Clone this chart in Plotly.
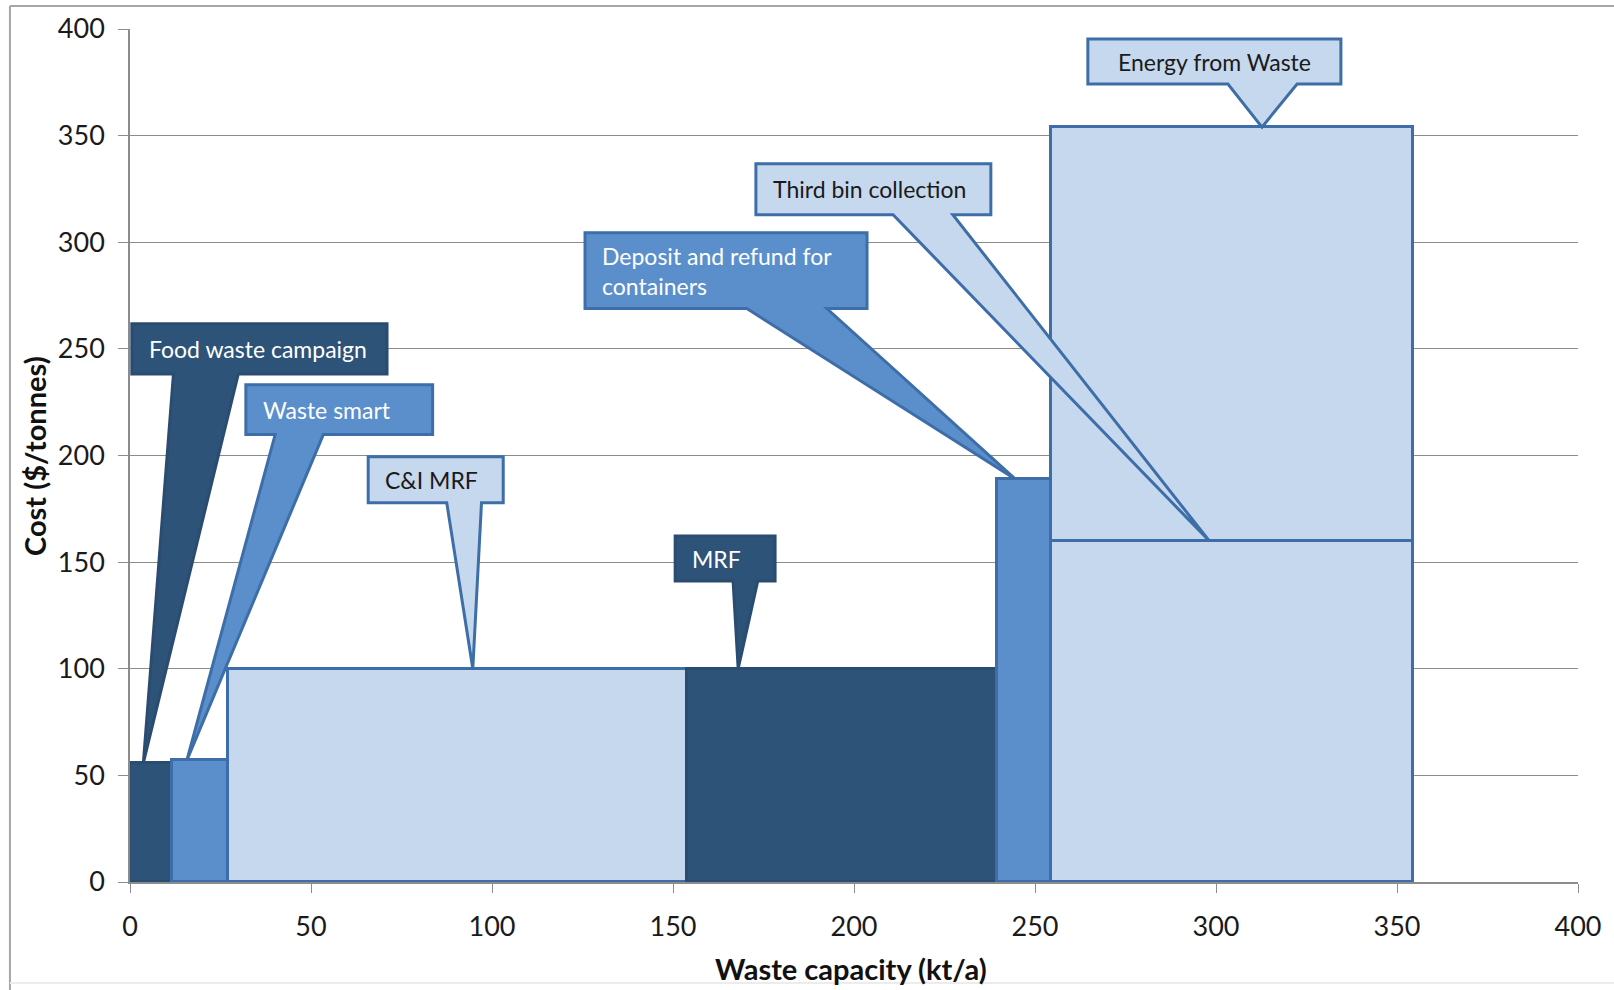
import plotly.graph_objects as go

# Waste options: where each starts on the capacity axis, its capacity and its cost
options = [
    "Food waste campaign",
    "Waste smart",
    "C&I MRF",
    "MRF",
    "Deposit and refund for containers",
    "Third bin collection",
    "Energy from Waste",
]
capacity_start = [0, 11.5, 27, 154, 239.5, 254.5, 254.5]   # kt/a
capacity = [11.5, 15.5, 127, 85.5, 15, 100, 100]           # kt/a
cost = [56, 57, 100, 100, 189, 160, 354]                   # $/tonne

x_ticks = [0, 50, 100, 150, 200, 250, 300, 350, 400]
y_ticks = [0, 50, 100, 150, 200, 250, 300, 350, 400]

DARK = "#2e5379"
MID = "#5b8fcb"
LIGHT = "#c5d8ed"
EDGE = "#3e6ea8"
DARK_EDGE = "#2b4c71"
FONT = "Lato, 'Open Sans', sans-serif"

shade = {
    "Food waste campaign": DARK,
    "Waste smart": MID,
    "C&I MRF": LIGHT,
    "MRF": DARK,
    "Deposit and refund for containers": MID,
    "Third bin collection": LIGHT,
    "Energy from Waste": LIGHT,
}

fig = go.Figure()

# Energy from Waste sits behind the third bin block that shares its span
draw_order = [0, 1, 2, 3, 4, 6, 5]
for i in draw_order:
    fig.add_trace(go.Bar(
        x=[capacity_start[i] + capacity[i] / 2],
        y=[cost[i]],
        width=[capacity[i]],
        base=0,
        name=options[i],
        marker=dict(color=shade[options[i]],
                    line=dict(color=DARK_EDGE if shade[options[i]] == DARK else EDGE, width=3)),
        showlegend=False,
        hoverinfo="name+y",
    ))

# Callout boxes: box extent (x0, x1, y_bottom, y_top), pointer base on the box
# bottom edge, pointer x at the block top, label text and its placement
callouts = {
    "Food waste campaign": dict(box=(0.5, 71.0, 238.2, 261.8), base=(12.0, 29.9), tip_x=3.7,
                                text="Food waste campaign", place="left"),
    "Waste smart": dict(box=(32.0, 83.6, 209.8, 233.2), base=(40.1, 53.4), tip_x=15.7,
                        text="Waste smart", place="left"),
    "C&I MRF": dict(box=(65.8, 103.1, 177.8, 199.4), base=(87.5, 97.1), tip_x=94.7,
                    text="C&amp;I MRF", place="left"),
    "MRF": dict(box=(150.6, 178.2, 141.1, 162.2), base=(166.6, 173.4), tip_x=168.0,
                text="MRF", place="left"),
    "Deposit and refund for containers": dict(box=(125.7, 203.6, 268.9, 304.4), base=(170.4, 192.5),
                                              tip_x=244.5,
                                              text="Deposit and refund for<br>containers", place="left"),
    "Third bin collection": dict(box=(172.9, 237.8, 312.9, 336.8), base=(210.8, 227.3), tip_x=298.1,
                                 text="Third bin collection", place="left"),
    "Energy from Waste": dict(box=(264.6, 334.5, 374.2, 395.3), base=(303.3, 322.4), tip_x=312.7,
                              text="Energy from Waste", place="center"),
}

shapes = []
annotations = []
for i, opt in enumerate(options):
    c = callouts[opt]
    x0, x1, yb, yt = c["box"]
    bx0, bx1 = c["base"]
    tx, ty = c["tip_x"], cost[i]
    fill = shade[opt]
    edge = DARK_EDGE if fill == DARK else EDGE
    path = (f"M {x0},{yt} L {x1},{yt} L {x1},{yb} L {bx1},{yb} L {tx},{ty} "
            f"L {bx0},{yb} L {x0},{yb} Z")
    shapes.append(dict(type="path", path=path, xref="x", yref="y", fillcolor=fill,
                       line=dict(color=edge, width=3), layer="above"))
    txt_color = "#1a1a1a" if fill == LIGHT else "#ffffff"
    if c["place"] == "left":
        annotations.append(dict(x=x0, y=(yb + yt) / 2, xref="x", yref="y", xanchor="left",
                                yanchor="middle", xshift=15, text=c["text"], showarrow=False,
                                align="left", font=dict(family=FONT, size=23, color=txt_color)))
    else:
        annotations.append(dict(x=(x0 + x1) / 2, y=(yb + yt) / 2, xref="x", yref="y",
                                xanchor="center", yanchor="middle", text=c["text"],
                                showarrow=False, font=dict(family=FONT, size=23, color=txt_color)))

# Axis titles
annotations.append(dict(x=0.498, y=-0.101, xref="paper", yref="paper", text="<b>Waste capacity (kt/a)</b>",
                        showarrow=False, xanchor="center", yanchor="middle",
                        font=dict(family=FONT, size=29, color="#111111")))
annotations.append(dict(x=-0.066, y=0.5, xref="paper", yref="paper", text="<b>Cost ($/tonnes)</b>",
                        showarrow=False, textangle=-90, xanchor="center", yanchor="middle",
                        font=dict(family=FONT, size=29, color="#111111")))

# Chart-area frame
shapes.append(dict(type="line", xref="paper", yref="paper", x0=-0.0829, x1=1.05, y0=1.027, y1=1.027,
                   line=dict(color="#a6a6a6", width=2), layer="below"))
shapes.append(dict(type="line", xref="paper", yref="paper", x0=-0.0829, x1=-0.0829, y0=1.027, y1=-0.15,
                   line=dict(color="#a6a6a6", width=2), layer="below"))
shapes.append(dict(type="line", xref="paper", yref="paper", x0=-0.0829, x1=1.05, y0=-0.1184, y1=-0.1184,
                   line=dict(color="#ececec", width=2), layer="below"))

fig.update_layout(
    width=1614, height=990,
    margin=dict(l=130, r=36, t=29, b=108, pad=0),
    paper_bgcolor="white", plot_bgcolor="white",
    barmode="overlay", bargap=0,
    shapes=shapes, annotations=annotations,
    font=dict(family=FONT, color="#1a1a1a"),
    xaxis=dict(range=[0, 400], tickvals=x_ticks, ticktext=[str(v) for v in x_ticks],
               showgrid=False, zeroline=False, showline=True, linecolor="#8c8c8c", linewidth=1.5,
               ticks="outside", ticklen=9, tickcolor="#8c8c8c", tickwidth=1,
               tickfont=dict(family=FONT, size=27, color="#1a1a1a"), ticklabelstandoff=11),
    yaxis=dict(range=[0, 400], tickvals=y_ticks, ticktext=[str(v) for v in y_ticks],
               showgrid=True, gridcolor="#8c8c8c", gridwidth=1, zeroline=False,
               showline=True, linecolor="#8c8c8c", linewidth=1.5,
               ticks="outside", ticklen=10, tickcolor="#8c8c8c", tickwidth=1,
               tickfont=dict(family=FONT, size=27, color="#1a1a1a"), ticklabelstandoff=8),
)

fig.write_html("out.html")
